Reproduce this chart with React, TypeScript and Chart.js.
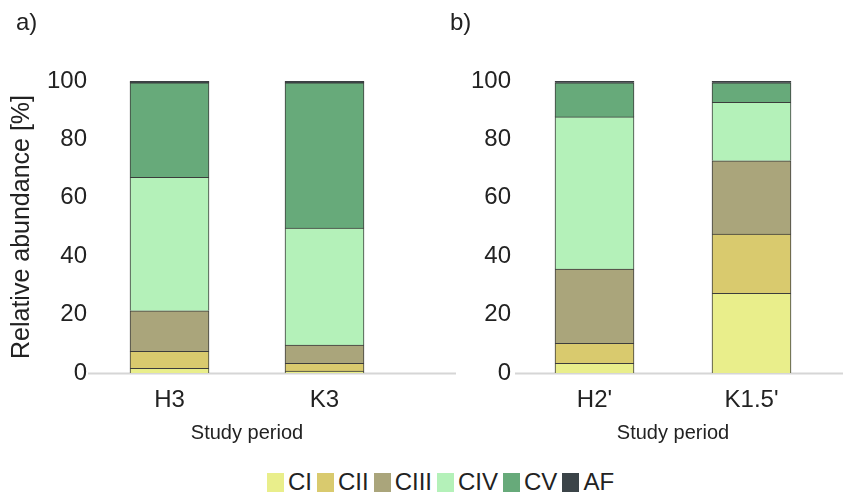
import React, { useEffect, useRef } from 'react';
import { Chart, registerables } from 'chart.js';

Chart.register(...registerables);

// Study periods: the first two belong to panel a), the last two to panel b)
const periods = ['H3', 'K3', "H2'", "K1.5'"];
const stages = ['CI', 'CII', 'CIII', 'CIV', 'CV', 'AF'];

// Relative abundance [%] of each developmental stage per study period
const CI = [1.6, 0.7, 3.3, 27.3];
const CII = [5.8, 2.6, 6.9, 20.3];
const CIII = [13.9, 6.3, 25.4, 25.1];
const CIV = [45.7, 40.0, 52.1, 20.0];
const CV = [32.4, 49.8, 11.7, 6.7];
const AF = [0.6, 0.6, 0.6, 0.6];

const yTicks = [0, 20, 40, 60, 80, 100];

const stageValues = [CI, CII, CIII, CIV, CV, AF];
const stageColors = ['#e9ee8b', '#d9ca6e', '#aaa57b', '#b4f1b9', '#67aa7a', '#3b4448'];

const FONT = '"Liberation Sans", Arial, sans-serif';
const TEXT = '#222222';

// Light grey base line under the bars, running a little past the plot area
const baselinePlugin = {
  id: 'baseline',
  beforeDatasetsDraw(chart: any, _args: any, opts: any) {
    const { ctx, chartArea } = chart;
    ctx.save();
    ctx.strokeStyle = opts.color || '#d6d6d6';
    ctx.lineWidth = 2;
    ctx.beginPath();
    const y = chartArea.bottom + 0.5;
    ctx.moveTo(chartArea.left - (opts.extendLeft || 0), y);
    ctx.lineTo(chartArea.right + (opts.extendRight || 0), y);
    ctx.stroke();
    ctx.restore();
  },
};

type PanelProps = {
  from: number;
  to: number;
  width: number;
  height: number;
  yWidth: number;
  padRight: number;
  showYTitle: boolean;
  extendLeft: number;
  extendRight: number;
};

function Panel(p: PanelProps) {
  const ref = useRef<HTMLCanvasElement | null>(null);

  useEffect(() => {
    if (!ref.current) return;
    const labels = periods.slice(p.from, p.to);
    const chart = new Chart(ref.current, {
      type: 'bar',
      data: {
        labels,
        datasets: stages.map((s, i) => ({
          label: s,
          data: stageValues[i].slice(p.from, p.to),
          backgroundColor: stageColors[i],
          borderColor: '#3c3c3c',
          borderWidth: 1,
          borderSkipped: 'start',
          barThickness: 79,
        })),
      },
      options: {
        responsive: false,
        animation: false,
        devicePixelRatio: 1,
        layout: { padding: { top: 81, left: 0, right: p.padRight, bottom: 0 } },
        plugins: {
          legend: { display: false },
          tooltip: { enabled: false },
          baseline: { extendLeft: p.extendLeft, extendRight: p.extendRight, color: '#d6d6d6' },
        } as any,
        scales: {
          x: {
            stacked: true,
            grid: { display: false, drawTicks: false },
            border: { display: false },
            ticks: { color: TEXT, font: { family: FONT, size: 24 }, padding: 13 },
            title: {
              display: true,
              text: 'Study period',
              color: TEXT,
              font: { family: FONT, size: 20 },
              padding: { top: 0, bottom: 5 },
            },
            afterFit: (s: any) => {
              s.height = p.height - 373;
            },
          },
          y: {
            stacked: true,
            min: 0,
            max: 100,
            grid: { display: false, drawTicks: false },
            border: { display: false },
            afterBuildTicks: (s: any) => {
              s.ticks = yTicks.map((v) => ({ value: v }));
            },
            ticks: { color: TEXT, font: { family: FONT, size: 24 }, padding: 5 },
            title: {
              display: p.showYTitle,
              text: 'Relative abundance [%]',
              color: TEXT,
              font: { family: FONT, size: 25 },
              padding: { top: 7, bottom: 0 },
            },
            afterFit: (s: any) => {
              s.width = p.yWidth;
            },
          },
        },
      },
      plugins: [baselinePlugin],
    });
    return () => chart.destroy();
  }, []);

  return (
    <canvas
      ref={ref}
      width={p.width}
      height={p.height}
      style={{ width: p.width, height: p.height, display: 'block' }}
    />
  );
}

function Legend() {
  return (
    <div
      style={{
        position: 'absolute',
        left: 267,
        top: 470,
        display: 'flex',
        alignItems: 'center',
        fontFamily: FONT,
        fontSize: 24,
        color: TEXT,
        lineHeight: '24px',
      }}
    >
      {stages.map((s, i) => (
        <div key={s} style={{ display: 'flex', alignItems: 'center', marginRight: 5 }}>
          <span
            style={{
              display: 'inline-block',
              width: 17,
              height: 19,
              background: stageColors[i],
              marginRight: 4,
            }}
          />
          <span>{s}</span>
        </div>
      ))}
    </div>
  );
}

export default function App() {
  const label = {
    position: 'absolute' as const,
    fontFamily: FONT,
    fontSize: 24,
    lineHeight: '24px',
    color: TEXT,
  };
  return (
    <div
      style={{
        position: 'fixed',
        left: 0,
        top: 0,
        width: 843,
        height: 499,
        background: '#ffffff',
        overflow: 'hidden',
      }}
    >
      <div style={{ position: 'absolute', left: 0, top: 0 }}>
        <Panel
          from={0}
          to={2}
          width={460}
          height={450}
          yWidth={92}
          padRight={58}
          showYTitle={true}
          extendLeft={4}
          extendRight={54}
        />
      </div>
      <div style={{ position: 'absolute', left: 460, top: 0 }}>
        <Panel
          from={2}
          to={4}
          width={383}
          height={450}
          yWidth={56}
          padRight={13}
          showYTitle={false}
          extendLeft={1}
          extendRight={13}
        />
      </div>
      <div style={{ ...label, left: 16, top: 10 }}>a)</div>
      <div style={{ ...label, left: 450, top: 10 }}>b)</div>
      <Legend />
    </div>
  );
}
